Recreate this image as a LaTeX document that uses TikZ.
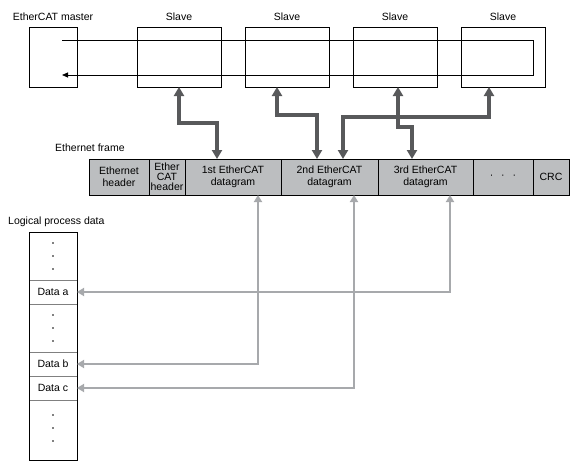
\documentclass[tikz,border=0pt]{standalone}
\usepackage{fontspec}
\setmainfont{Liberation Sans}
\usetikzlibrary{positioning,arrows.meta}
\definecolor{busgray}{HTML}{58595B}
\definecolor{mapgray}{HTML}{A7A9AC}
\definecolor{cellgray}{HTML}{BCBEC0}
\begin{document}
\begin{tikzpicture}[x=1pt,y=-1pt,
  every node/.style={font=\fontsize{10.5}{12}\selectfont},
  box/.style={draw,line width=0.8pt,minimum height=60pt,minimum width=84pt,inner sep=0pt,outer sep=0pt},
  cell/.style={draw,fill=cellgray,line width=0.6pt,minimum height=36pt,inner sep=1pt,outer sep=0pt,align=center},
  slot/.style={draw=gray,line width=0.6pt,minimum width=48pt,inner sep=0pt,outer sep=0pt},
  title/.style={inner sep=0pt,anchor=west},
  ring/.style={line width=0.8pt,-{Triangle[length=6pt,width=5pt]}},
  bus/.style={draw=busgray,line width=3.5pt,{Triangle[length=9pt,width=10pt]}-{Triangle[length=9pt,width=10pt]}},
  map/.style={draw=mapgray,line width=2.8pt,{Triangle[length=7pt,width=8pt]}-{Triangle[length=7pt,width=8pt]}}]
\useasboundingbox (0,0) rectangle (582,474);

% master and slaves
\node[box,minimum width=48pt,label={[label distance=2.5pt]above:EtherCAT master}] (master) at (53,57) {};
\node[box,label={[label distance=2.5pt]above:Slave}] (s1) [right=60pt of master] {};
\node[box,label={[label distance=2.5pt]above:Slave}] (s2) [right=24pt of s1] {};
\node[box,label={[label distance=2.5pt]above:Slave}] (s3) [right=24pt of s2] {};
\node[box,label={[label distance=2.5pt]above:Slave}] (s4) [right=24pt of s3] {};

\coordinate (ring tl) at (62,40);
\coordinate (ring tr) at (533,40);
\coordinate (ring br) at (533,75);
\coordinate (ring bl) at (62,75);
\draw[ring] (ring tl) -- (ring tr) -- (ring br) -- (ring bl);

% ethernet frame
\node[title] (frame) at (55,148) {Ethernet frame};
\node[cell,minimum width=60pt] (eh) at (119,177) {Ethernet\\header};
\node[cell,minimum width=36pt,font=\fontsize{10.5}{10}\selectfont] (ech) [right=0pt of eh] {Ether\\CAT\\header};
\node[cell,minimum width=96pt] (d1) [right=0pt of ech] {1st EtherCAT\\datagram};
\node[cell,minimum width=97pt] (d2) [right=0pt of d1] {2nd EtherCAT\\datagram};
\node[cell,minimum width=95pt] (d3) [right=0pt of d2] {3rd EtherCAT\\datagram};
\node[cell,minimum width=60pt] (etc) [right=0pt of d3] {·\hspace{8pt}·\hspace{8pt}·};
\node[cell,minimum width=36pt] (crc) [right=0pt of etc] {CRC};

% slaves <-> datagrams
\draw[bus] (s1.south) -- ++(0,36) -| ([xshift=32pt]d1.north west);
\draw[bus] ([xshift=-10pt]s2.south) -- ++(0,28) -| ([xshift=36pt]d2.north west);
\draw[bus] ([xshift=-14pt]s4.south) -- ++(0,30) -| ([xshift=62pt]d2.north west);
\draw[bus] ([xshift=3pt]s3.south) -- ++(0,40) -| ([xshift=34pt]d3.north west);

% logical process data
\node[title] (lpd) at (8,222) {Logical process data};
\node[slot,minimum height=48pt] (pd1) at (53,256) {};
\node[slot,minimum height=24pt] (da) [below=0pt of pd1] {Data a};
\node[slot,minimum height=48pt] (pd2) [below=0pt of da] {};
\node[slot,minimum height=24pt] (db) [below=0pt of pd2] {Data b};
\node[slot,minimum height=24pt] (dc) [below=0pt of db] {Data c};
\node[slot,minimum height=60pt] (pd3) [below=0pt of dc] {};
\draw[line width=0.8pt] (pd1.north west) rectangle (pd3.south east);
\foreach \k in {-13,0,13} {
  \fill (pd1.center) ++(0,\k) circle (0.8pt);
  \fill (pd2.center) ++(0,\k) circle (0.8pt);
  \fill ([yshift=2pt]pd3.center) ++(0,\k) circle (0.8pt);
}

% datagrams <-> process data
\draw[map] (da.east) -| ([xshift=72pt]d3.south west);
\draw[map] (db.east) -| ([xshift=73pt]d1.south west);
\draw[map] (dc.east) -| ([xshift=73pt]d2.south west);
\end{tikzpicture}
\end{document}
